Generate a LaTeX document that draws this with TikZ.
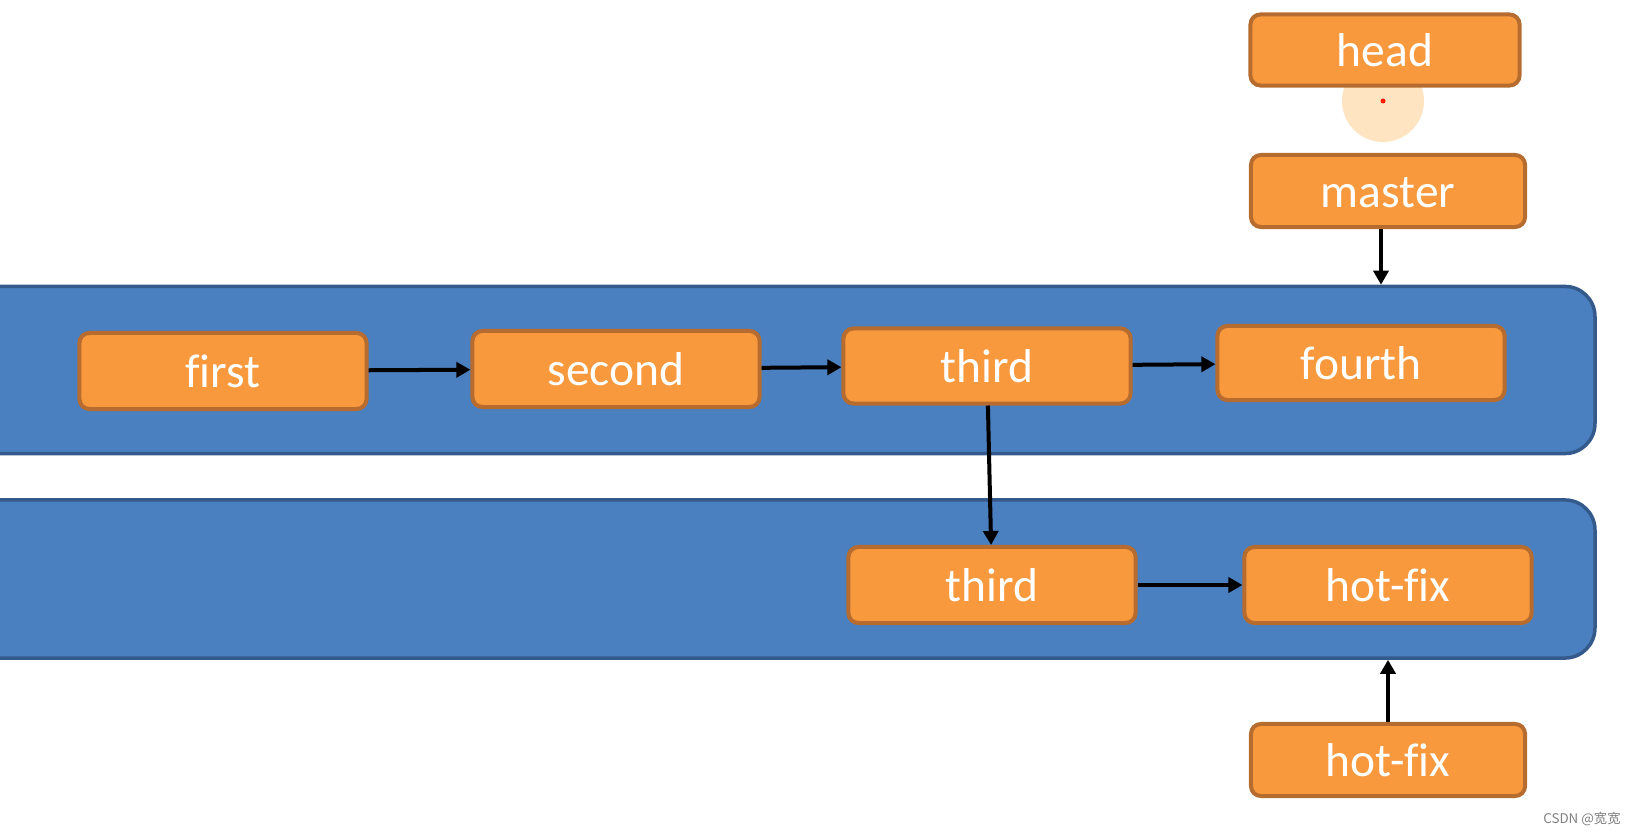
\documentclass[tikz,border=0pt]{standalone}
\usepackage{fontspec}
\setmainfont{Carlito}[Ligatures=NoCommon]
\newfontfamily\cjk{Noto Sans CJK SC}
\usetikzlibrary{arrows.meta,positioning}

\definecolor{boxfill}{RGB}{249,153,62}
\definecolor{boxline}{RGB}{182,108,46}
\definecolor{lanefill}{RGB}{74,127,192}
\definecolor{laneline}{RGB}{52,90,140}
\definecolor{spot}{RGB}{254,228,192}

\tikzset{
  commit/.style={draw=boxline,fill=boxfill,line width=0.04cm,rounded corners=0.1cm,
    text=white,font=\fontsize{13.5}{16}\selectfont,text height=0.4cm,text depth=0.07cm,
    minimum width=2.87cm,minimum height=0.76cm,inner sep=0pt},
  tag/.style={commit,minimum width=2.74cm,minimum height=0.72cm},
  lane/.style={draw=laneline,fill=lanefill,line width=0.035cm,rounded corners=0.3cm,
    inner sep=0pt,minimum width=16.25cm},
  link/.style={-{Triangle[length=0.14cm,width=0.15cm]},line width=0.04cm,black}
}

\begin{document}
\begin{tikzpicture}[x=0.01cm,y=-0.01cm]
\clip (0,0) rectangle (1631,834);
\useasboundingbox (0,0) rectangle (1631,834);

% Branch lanes
\node[lane,minimum height=1.67cm] (mainlane) at (782,370) {};
\node[lane,minimum height=1.58cm] (hotlane) at (782,579) {};

% Pointer spot
\fill[spot] (1383,101) circle (41);
\fill[red!80!orange] (1383,101) circle (2.5);

% Commits
\node[commit] (first) at (223,371) {first};
\node[commit] (second) at (616,369) {second};
\node[commit,minimum height=0.75cm] (third) at (987,366) {third};
\node[commit,minimum height=0.74cm] (fourth) at (1361,363) {fourth};
\node[commit] (thirdfix) at (992,585) {third};
\node[commit] (hotfix) at (1388,585) {hot-fix};

% Pointers
\node[tag,minimum width=2.69cm,minimum height=0.71cm] (head) at (1385,50) {head};
\node[tag] (master) at (1388,191) {master};
\node[tag] (hotfixtag) at (1388,760) {hot-fix};

% Links
\draw[link] (first) -- (second);
\draw[link] (second) -- (third);
\draw[link] (third) -- (fourth);
\draw[link] (third) -- (thirdfix);
\draw[link] (thirdfix) -- (hotfix);
\draw[link] ([xshift=-0.07cm]master.south) -- ([xshift=-0.07cm]master.south |- mainlane.north);
\draw[link] (hotfixtag) -- (hotfixtag |- hotlane.south);

\node[font=\cjk\fontsize{3.8}{4}\selectfont,text=gray] (mark) at (1582,819) {CSDN @宽宽};
\end{tikzpicture}
\end{document}
